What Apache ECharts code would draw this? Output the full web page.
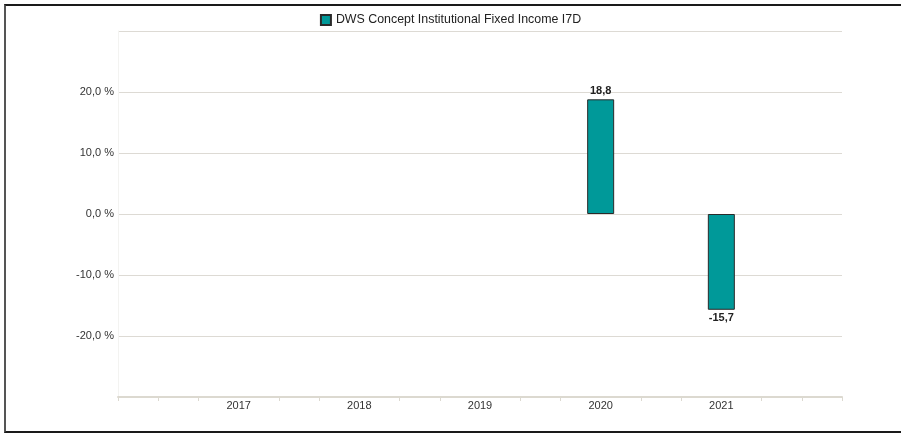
<!DOCTYPE html>
<html>
<head>
<meta charset="utf-8">
<script src="https://cdn.jsdelivr.net/npm/echarts@6/dist/echarts.min.js"></script>
<style>
html,body{margin:0;padding:0;background:#fff;overflow:hidden;}
#chart{position:absolute;left:0;top:0;width:901px;height:433px;}
#frame{position:absolute;left:4px;top:4px;width:910px;height:425px;border-top:2px solid #1a1a1a;border-left:2px solid #555;border-bottom:2px solid #1a1a1a;pointer-events:none;}
</style>
</head>
<body>
<div id="chart"></div>
<div id="frame"></div>
<script>
const seriesName = 'DWS Concept Institutional Fixed Income I7D';
const years = [2017, 2018, 2019, 2020, 2021];
const values = [null, null, null, 18.8, -15.7];
const yTicks = [-20, -10, 0, 10, 20];

const xMin = 2016, xMax = 2022;
const tickValues = [];
for (let i = 0; i <= (xMax - xMin) * 3; i++) {
  const v = xMin + i / 3;
  if (i % 3 === 0 && years.indexOf(Math.round(v)) >= 0) continue;
  tickValues.push(v);
}
const fmt = v => v.toFixed(1).replace('.', ',');

const chart = echarts.init(document.getElementById('chart'));
chart.setOption({
  animation: false,
  legend: {
    top: 9,
    left: 'center',
    itemWidth: 10,
    itemHeight: 10,
    itemGap: 5,
    textStyle: {fontFamily: 'Liberation Sans, Arial', fontSize: 12.4, color: '#222'},
    data: [{name: seriesName, icon: 'rect'}]
  },
  grid: {left: 118, right: 59, top: 31, bottom: 36, containLabel: false},
  xAxis: {
    type: 'value',
    min: xMin, max: xMax, interval: 1,
    axisLine: {show: true, onZero: false, lineStyle: {color: '#dcd9d0', width: 2}},
    axisTick: {show: true, length: 4, customValues: tickValues, lineStyle: {color: '#dcd9d0', width: 1}},
    splitLine: {show: false},
    axisLabel: {
      customValues: years,
      margin: 3,
      fontFamily: 'Liberation Sans, Arial', fontSize: 11, color: '#333',
      formatter: v => String(Math.round(v))
    }
  },
  yAxis: {
    type: 'value',
    min: -30, max: 30, interval: 10,
    axisLine: {show: true, lineStyle: {color: '#f3f3f1', width: 1}},
    axisTick: {show: false},
    splitLine: {show: true, lineStyle: {color: '#dddad4', width: 1}},
    axisLabel: {
      customValues: yTicks,
      margin: 4,
      fontFamily: 'Liberation Sans, Arial', fontSize: 11, color: '#333',
      formatter: v => fmt(v) + ' %'
    }
  },
  series: [{
    name: seriesName,
    type: 'bar',
    barWidth: 27,
    data: years.map((y, i) => [y, values[i]]).filter(d => d[1] !== null),
    itemStyle: {color: '#009999', borderColor: '#2a2a2a', borderWidth: 1},
    label: {
      show: true,
      position: 'outside',
      distance: 3,
      fontFamily: 'Liberation Sans, Arial', fontSize: 11, fontWeight: 'bold', color: '#222',
      formatter: p => fmt(p.value[1])
    }
  }]
});
</script>
</body>
</html>
